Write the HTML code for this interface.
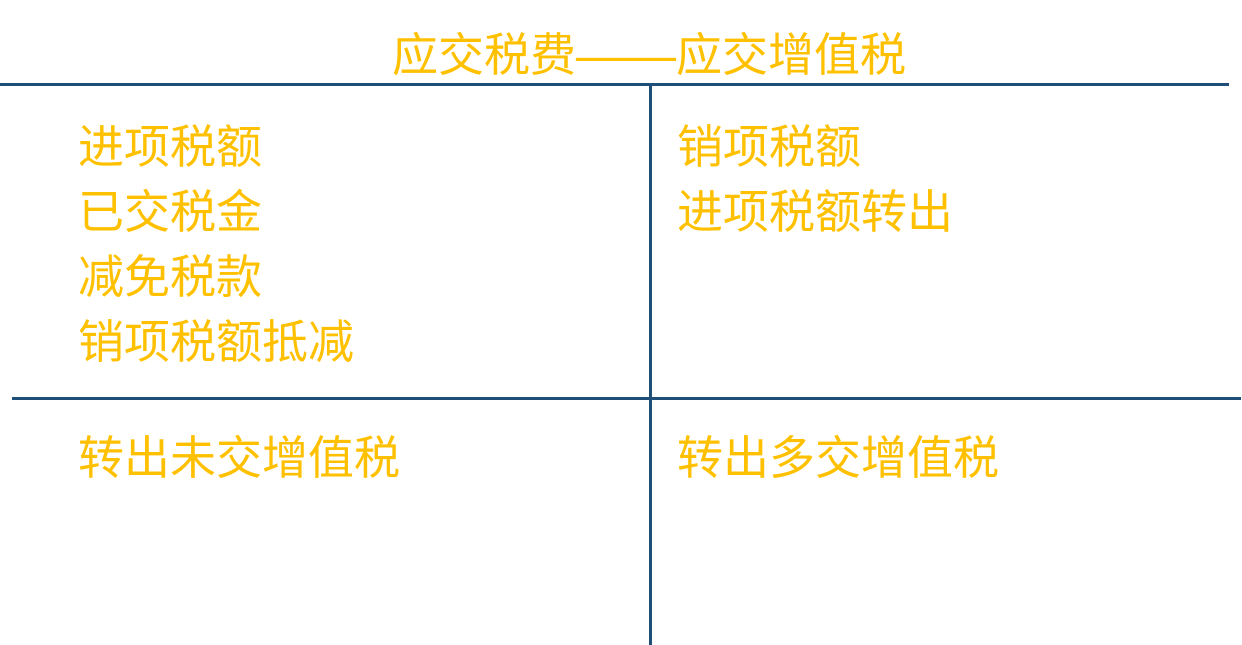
<!DOCTYPE html>
<html><head><meta charset="utf-8"><style>
body{margin:0;width:1242px;height:645px;background:#fff;position:relative;overflow:hidden;font-family:"Liberation Sans","Noto Sans CJK SC",sans-serif;}
.t{position:absolute;color:#FFC000;font-size:46px;line-height:46px;white-space:nowrap;}
.l{position:absolute;background:#1F4E79;}
</style></head><body>
<div class="t" style="left:392px;top:32px;">应交税费<span style="display:inline-block;width:100px;text-align:center;transform:scaleX(1.09);">——</span>应交增值税</div>
<div class="l" style="left:0;top:83px;width:1229px;height:3px;"></div>
<div class="l" style="left:649px;top:84px;width:3px;height:561px;"></div>
<div class="l" style="left:12px;top:397px;width:1229px;height:3px;"></div>
<div class="t" style="left:78px;top:124px;">进项税额</div>
<div class="t" style="left:78px;top:189px;">已交税金</div>
<div class="t" style="left:78px;top:254px;">减免税款</div>
<div class="t" style="left:78px;top:319px;">销项税额抵减</div>
<div class="t" style="left:677px;top:124px;">销项税额</div>
<div class="t" style="left:677px;top:189px;">进项税额转出</div>
<div class="t" style="left:78px;top:435px;">转出未交增值税</div>
<div class="t" style="left:677px;top:435px;">转出多交增值税</div>
</body></html>
